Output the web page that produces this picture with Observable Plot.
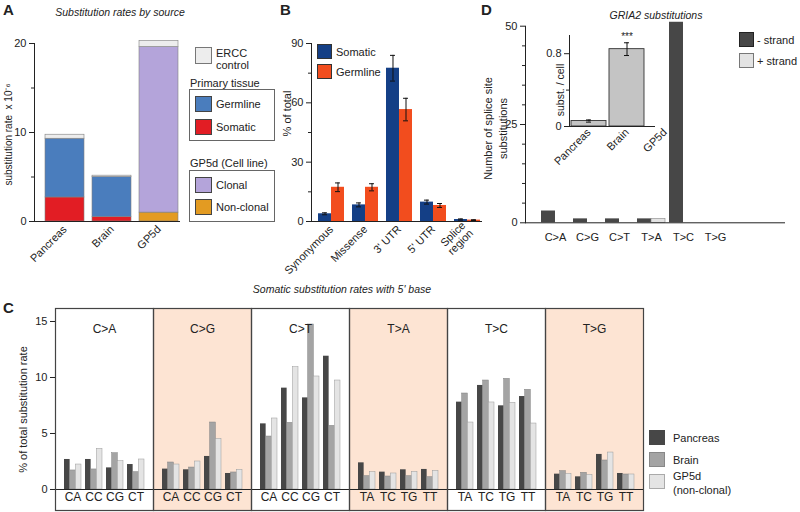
<!DOCTYPE html>
<html><head><meta charset="utf-8">
<script src="https://cdn.jsdelivr.net/npm/d3@7"></script>
<script src="https://cdn.jsdelivr.net/npm/@observablehq/plot@0.6"></script>
<style>
body{margin:0;background:#fff;}
#root{position:relative;width:800px;height:512px;overflow:hidden;font-family:"Liberation Sans",Arial,sans-serif;color:#222;}
.layer{position:absolute;left:0;top:0;}
.t{position:absolute;white-space:nowrap;line-height:1;}
.sw{position:absolute;box-sizing:border-box;}
.box{position:absolute;border:1px solid #666;box-sizing:border-box;}
</style></head><body><div id="root"></div>
<script>
// ---------- Panel A data ----------
const sourcesA = ["Pancreas", "Brain", "GP5d"];
const lowerPartA = ["Somatic", "Somatic", "Non-clonal"];
const lowerValA = [2.7, 0.5, 1.0];
const upperPartA = ["Germline", "Germline", "Clonal"];
const upperValA = [6.6, 4.5, 18.6];
const erccValA = [0.45, 0.15, 0.7];
const partsA = ["ERCC control", "Germline", "Somatic", "Clonal", "Non-clonal"];
const partColorsA = ["#ededed", "#4a7dbd", "#e21d24", "#b4a4da", "#e39b22"];
const yTicksA = [0, 10, 20], yMinorA = [5, 15];

// ---------- Panel B data ----------
const regionsB = ["Synonymous", "Missense", "3' UTR", "5' UTR", "Splice region"];
const somaticB = [3.9, 8.4, 77.5, 9.8, 1.0];
const somaticErrB = [0.5, 1.0, 6.5, 1.0, 0.3];
const germlineB = [17.3, 17.3, 56.6, 8.1, 0.7];
const germlineErrB = [2.2, 1.8, 5.7, 1.0, 0.2];
const seriesB = ["Somatic", "Germline"];
const colorsB = ["#143f86", "#f24d1e"];
const yTicksB = [0, 30, 60, 90], yMinorB = [15, 45, 75];

// ---------- Panel C data ----------
const typesC = ["C>A", "C>G", "C>T", "T>A", "T>C", "T>G"];
const basesC = ["A", "C", "G", "T"];
const pancreasC = [2.68, 2.68, 1.93, 2.23,  1.82, 1.76, 2.95, 1.43,  5.86, 9.05, 8.18, 11.90,
                   2.38, 1.55, 1.76, 1.79,  7.80, 9.29, 7.47, 8.30,  1.37, 1.13, 3.13, 1.43];
const brainC    = [1.70, 1.79, 3.24, 1.55,  2.41, 1.96, 5.98, 1.52,  4.73, 5.95, 14.73, 5.68,
                   1.19, 1.16, 1.19, 1.10,  8.57, 9.73, 9.88, 8.90,  1.64, 1.49, 2.59, 1.34];
const gp5dC     = [2.23, 3.63, 2.53, 2.68,  2.23, 2.50, 4.52, 1.76,  6.34, 10.92, 10.09, 9.73,
                   1.55, 1.43, 1.58, 1.67,  5.98, 7.77, 7.74, 5.89,  1.40, 1.31, 3.30, 1.34];
const sourcesC = ["Pancreas", "Brain", "GP5d\n(non-clonal)"];
const colorsC = ["#474747", "#a4a4a4", "#e4e4e4"];
const yTicksC = [0, 5, 10, 15];

// ---------- Panel D data ----------
const typesD = ["C>A", "C>G", "C>T", "T>A", "T>C", "T>G"];
const minusD = [3, 1, 1, 1, 51, 0];
const plusD = [0, 0, 0, 1, 0, 0];
const strandsD = ["- strand", "+ strand"];
const colorsD = ["#474747", "#e3e3e3"];
const yTicksD = [0, 25, 50], yMinorD = [5, 10, 15, 20, 30, 35, 40, 45];
const insetSources = ["Pancreas", "Brain", "GP5d"];
const insetVal = [0.06, 0.85, 0];
const insetErr = [0.012, 0.07, 0];
const insetSig = ["", "***", ""];
const yTicksI = [0, 0.8], yMinorI = [0.4];

// ---------- helpers ----------
const W = 800, H = 512;
const root = document.getElementById("root");
const baseStyle = {fontFamily: "Liberation Sans, Arial, sans-serif", fontSize: "10px", background: "transparent", color: "#222", overflow: "visible"};
function addPlot(p) { const d = document.createElement("div"); d.className = "layer"; d.appendChild(p); root.appendChild(d); }
function txt(s, x, y, o = {}) {
  const d = document.createElement("div"); d.className = "t"; d.textContent = s;
  d.style.left = x + "px"; d.style.top = y + "px"; d.style.fontSize = (o.size || 11) + "px";
  if (o.italic) d.style.fontStyle = "italic";
  if (o.bold) d.style.fontWeight = "bold";
  d.style.transform = o.center ? "translate(-50%,-50%)" : "translate(0,-50%)";
  root.appendChild(d);
}
function sw(x, y, w, h, fill, border) {
  const d = document.createElement("div"); d.className = "sw";
  Object.assign(d.style, {left: x + "px", top: y + "px", width: w + "px", height: h + "px", background: fill, border: "1px solid " + (border || "#555")});
  root.appendChild(d);
}
function box(x, y, w, h) { const d = document.createElement("div"); d.className = "box"; Object.assign(d.style, {left: x + "px", top: y + "px", width: w + "px", height: h + "px"}); root.appendChild(d); }
function bandwidth(frameW, n, pI, pO) { return frameW / (n - pI + 2 * pO) * (1 - pI); }
const spine = () => Plot.frame({anchor: "left", stroke: "#222"});
const yLabel = (s, dx, dy, extra = {}) => Plot.text([s], {text: d => d, frameAnchor: "left", textAnchor: "middle", lineAnchor: "middle", rotate: -90, dx, dy, fontSize: 11, ...extra});

// ---------- Panel A ----------
const rowsA = [];
sourcesA.forEach((s, i) => rowsA.push({source: s, part: lowerPartA[i], value: lowerValA[i]}));
sourcesA.forEach((s, i) => rowsA.push({source: s, part: upperPartA[i], value: upperValA[i]}));
sourcesA.forEach((s, i) => rowsA.push({source: s, part: partsA[0], value: erccValA[i]}));

addPlot(Plot.plot({
  width: W, height: H, marginLeft: 34, marginRight: W - 180, marginTop: 43, marginBottom: H - 221,
  style: baseStyle,
  x: {domain: sourcesA, paddingInner: 0.17, paddingOuter: 0.121, align: 0.87},
  y: {domain: [0, 20]},
  color: {domain: partsA, range: partColorsA},
  marks: [
    Plot.barY(rowsA, {x: "source", y: "value", fill: "part", stroke: "#808080", strokeWidth: 0.6}),
    Plot.ruleY([0], {stroke: "#222"}),
    spine(),
    Plot.axisY({ticks: yTicksA, tickSize: 5, tickPadding: 3, label: null, fontSize: 11}),
    Plot.axisY({ticks: yMinorA, tickSize: 3, tickFormat: () => "", label: null}),
    Plot.axisX({tickRotate: -45, tickSize: 0, tickPadding: 6, label: null, fontSize: 11}),
    yLabel("substitution rate  x 10⁻⁶", -26, 2, {fontSize: 10})
  ]
}));

// ---------- Panel B ----------
const bwB = bandwidth(482 - 311, regionsB.length, 0.24, 0.117);
const rowsB = regionsB.map((r, i) => ({region: r, somatic: somaticB[i], sErr: somaticErrB[i], germline: germlineB[i], gErr: germlineErrB[i]}));
const capIn = (bwB - 5) / 2;
addPlot(Plot.plot({
  width: W, height: H, marginLeft: 311, marginRight: W - 482, marginTop: 43, marginBottom: H - 221,
  style: baseStyle,
  x: {domain: regionsB, paddingInner: 0.24, paddingOuter: 0.117, align: 0.75},
  y: {domain: [0, 90]},
  marks: [
    Plot.barY(rowsB, {x: "region", y: "somatic", fill: colorsB[0], insetRight: bwB / 2}),
    Plot.barY(rowsB, {x: "region", y: "germline", fill: colorsB[1], insetLeft: bwB / 2}),
    Plot.ruleX(rowsB, {x: "region", y1: d => d.somatic - d.sErr, y2: d => d.somatic + d.sErr, dx: -bwB / 4, stroke: "#111"}),
    Plot.tickY(rowsB, {x: "region", y: d => d.somatic + d.sErr, dx: -bwB / 4, insetLeft: capIn, insetRight: capIn, stroke: "#111"}),
    Plot.tickY(rowsB, {x: "region", y: d => d.somatic - d.sErr, dx: -bwB / 4, insetLeft: capIn, insetRight: capIn, stroke: "#111"}),
    Plot.ruleX(rowsB, {x: "region", y1: d => d.germline - d.gErr, y2: d => d.germline + d.gErr, dx: bwB / 4, stroke: "#111"}),
    Plot.tickY(rowsB, {x: "region", y: d => d.germline + d.gErr, dx: bwB / 4, insetLeft: capIn, insetRight: capIn, stroke: "#111"}),
    Plot.tickY(rowsB, {x: "region", y: d => d.germline - d.gErr, dx: bwB / 4, insetLeft: capIn, insetRight: capIn, stroke: "#111"}),
    Plot.ruleY([0], {stroke: "#222"}),
    spine(),
    Plot.axisY({ticks: yTicksB, tickSize: 5, tickPadding: 3, label: null, fontSize: 11}),
    Plot.axisY({ticks: yMinorB, tickSize: 3, tickFormat: () => "", label: null}),
    Plot.axisX({tickRotate: -45, tickSize: 0, tickPadding: 6, label: null, fontSize: 11, tickFormat: d => d.replace(" region", "\nregion")}),
    yLabel("% of total", -24, -19)
  ]
}));

// ---------- Panel C ----------
const rowsC = [];
typesC.forEach((t, i) => basesC.forEach((b, j) => {
  const k = i * basesC.length + j;
  rowsC.push({type: t, base: b, context: t[0] + b, pancreas: pancreasC[k], brain: brainC[k], gp5d: gp5dC[k]});
}));
const panelsC = typesC.map((t, i) => ({type: t, shaded: i % 2 === 1}));
const bwC = bandwidth(98, basesC.length, 0.2, 0.4);
addPlot(Plot.plot({
  width: W, height: H, marginLeft: 55, marginRight: W - 643, marginTop: 308, marginBottom: H - 510,
  style: baseStyle,
  fx: {domain: typesC, padding: 0, axis: null},
  x: {domain: basesC, paddingInner: 0.2, paddingOuter: 0.4, axis: null},
  y: {domain: [-1.875, 16.16]},
  marks: [
    Plot.rect(panelsC.filter(d => d.shaded), {fx: "type", fill: "#fde4d3"}),
    Plot.barY(rowsC, {fx: "type", x: "base", y: "pancreas", fill: colorsC[0], insetRight: 2 * bwC / 3}),
    Plot.barY(rowsC, {fx: "type", x: "base", y: "brain", fill: colorsC[1], stroke: "#808080", strokeWidth: 0.5, insetLeft: bwC / 3, insetRight: bwC / 3}),
    Plot.barY(rowsC, {fx: "type", x: "base", y: "gp5d", fill: colorsC[2], stroke: "#9a9a9a", strokeWidth: 0.5, insetLeft: 2 * bwC / 3}),
    Plot.ruleY([0], {stroke: "#222"}),
    Plot.frame({stroke: "#444", strokeWidth: 1.2}),
    Plot.text(panelsC, {fx: "type", text: "type", frameAnchor: "top", dy: 16, fontSize: 12}),
    Plot.text(rowsC, {fx: "type", x: "base", text: "context", frameAnchor: "bottom", dy: -10, fontSize: 12}),
    Plot.axisY({ticks: yTicksC, tickSize: 5, tickPadding: 3, fontSize: 11, label: "% of total substitution rate", labelAnchor: "center", labelOffset: 36, labelArrow: "none"})
  ]
}));

// ---------- Panel D main ----------
const bwD = bandwidth(785 - 525, typesD.length, 0.14, 1.06);
const rowsD = typesD.map((t, i) => ({type: t, minus: minusD[i], plus: plusD[i]}));
addPlot(Plot.plot({
  width: W, height: H, marginLeft: 525, marginRight: W - 785, marginTop: 25.7, marginBottom: H - 222.3,
  style: baseStyle,
  x: {domain: typesD, paddingInner: 0.14, paddingOuter: 1.06, align: 0.22},
  y: {domain: [0, 50]},
  marks: [
    Plot.barY(rowsD.filter(d => d.minus > 0), {x: "type", y: "minus", fill: colorsD[0], insetRight: bwD / 2}),
    Plot.barY(rowsD.filter(d => d.plus > 0), {x: "type", y: "plus", fill: colorsD[1], stroke: "#888", strokeWidth: 0.6, insetLeft: bwD / 2}),
    Plot.ruleY([0], {stroke: "#222"}),
    spine(),
    Plot.axisY({ticks: yTicksD, tickSize: 5, tickPadding: 3, label: null, fontSize: 11}),
    Plot.axisY({ticks: yMinorD, tickSize: 3, tickFormat: () => "", label: null}),
    Plot.axisX({tickSize: 0, tickPadding: 10, label: null, fontSize: 11}),
    yLabel("Number of splice site\nsubstitutions", -31, 4, {lineHeight: 1.35})
  ]
}));

// ---------- Panel D inset ----------
const rowsI = insetSources.map((s, i) => ({source: s, v: insetVal[i], e: insetErr[i], sig: insetSig[i]}));
addPlot(Plot.plot({
  width: W, height: H, marginLeft: 569, marginRight: W - 684, marginTop: 35, marginBottom: H - 126,
  style: baseStyle,
  x: {domain: insetSources, paddingInner: 0.08, paddingOuter: 0.03},
  y: {domain: [0, 1]},
  marks: [
    Plot.barY(rowsI.filter(d => d.v > 0), {x: "source", y: "v", fill: "#c4c4c4", stroke: "#333", strokeWidth: 0.9}),
    Plot.ruleX(rowsI.filter(d => d.e > 0), {x: "source", y1: d => d.v - d.e, y2: d => d.v + d.e, stroke: "#111"}),
    Plot.tickY(rowsI.filter(d => d.e > 0), {x: "source", y: d => d.v + d.e, insetLeft: 15, insetRight: 15, stroke: "#111"}),
    Plot.tickY(rowsI.filter(d => d.e > 0), {x: "source", y: d => d.v - d.e, insetLeft: 15, insetRight: 15, stroke: "#111"}),
    Plot.text(rowsI.filter(d => d.sig), {x: "source", y: d => d.v + d.e, text: "sig", dy: -6, fontSize: 10}),
    Plot.ruleY([0], {stroke: "#222", insetRight: 29}),
    spine(),
    Plot.axisY({ticks: yTicksI, tickSize: 5, tickPadding: 3, label: null, fontSize: 11, tickFormat: d => d === 0 ? "0" : String(d)}),
    Plot.axisY({ticks: yMinorI, tickSize: 3, tickFormat: () => "", label: null}),
    Plot.axisX({tickRotate: -45, tickSize: 0, tickPadding: 4, label: null, fontSize: 11}),
    yLabel("subst. / cell", -9, 9, {fontSize: 10.5})
  ]
}));

// ---------- Titles, panel letters, legends ----------
txt("A", 3, 9, {bold: true, size: 15});
txt("B", 280, 9, {bold: true, size: 15});
txt("D", 481, 9, {bold: true, size: 15});
txt("C", 3, 307, {bold: true, size: 15});
txt("Substitution rates by source", 120, 12, {italic: true, center: true, size: 10.5});
txt("GRIA2 substitutions", 656, 15, {italic: true, center: true, size: 10.5});
txt("Somatic substitution rates with 5' base", 342, 289, {italic: true, center: true, size: 10.5});

// Legend A
sw(195, 47, 17, 17, partColorsA[0], "#777");
txt("ERCC", 216, 53, {size: 11}); txt("control", 216, 65, {size: 11});
txt("Primary tissue", 190, 83, {size: 11});
box(189, 89, 86, 52);
sw(195, 96, 17, 16, partColorsA[1], "#444"); txt(partsA[1], 216, 104, {size: 11});
sw(195, 119, 17, 16, partColorsA[2], "#444"); txt(partsA[2], 216, 127, {size: 11});
txt("GP5d (Cell line)", 190, 163, {size: 11});
box(189, 170, 86, 52);
sw(195, 177, 17, 16, partColorsA[3], "#444"); txt(partsA[3], 216, 185, {size: 11});
sw(195, 199, 17, 16, partColorsA[4], "#444"); txt(partsA[4], 216, 207, {size: 11});

// Legend B
sw(317, 44, 15, 15, colorsB[0], "#333"); txt(seriesB[0], 336, 52, {size: 11});
sw(317, 64, 15, 15, colorsB[1], "#333"); txt(seriesB[1], 336, 72, {size: 11});

// Legend D
sw(739, 32, 15, 15, colorsD[0], "#222"); txt(strandsD[0], 757, 40, {size: 11});
sw(739, 53, 15, 15, colorsD[1], "#777"); txt(strandsD[1], 757, 61, {size: 11});

// Legend C
sw(649, 430, 16, 15, colorsC[0], colorsC[0]); txt(sourcesC[0], 673, 438, {size: 11});
sw(649, 452, 16, 15, colorsC[1], "#888"); txt(sourcesC[1], 673, 460, {size: 11});
sw(649, 474, 16, 15, colorsC[2], "#aaa");
txt(sourcesC[2].split("\n")[0], 673, 476, {size: 11}); txt(sourcesC[2].split("\n")[1], 673, 490, {size: 11});
</script></body></html>
